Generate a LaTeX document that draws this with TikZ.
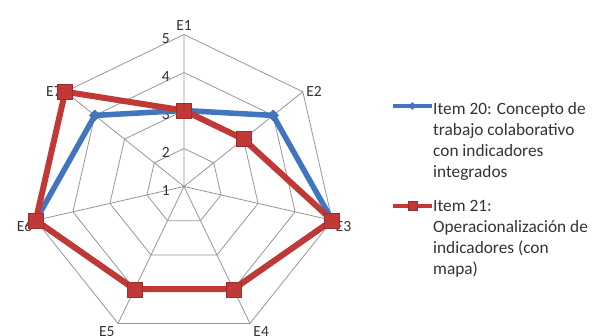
\documentclass[tikz,border=0pt]{standalone}
\usepackage{fontspec}
\setmainfont{Carlito}
\usepackage{tikz}
\usetikzlibrary{calc, shapes.geometric}
\definecolor{itemBlue}{RGB}{66,117,190}
\definecolor{itemRed}{RGB}{193,57,55}
\definecolor{webGray}{RGB}{150,150,150}
\tikzset{
  webline/.style={draw=webGray, line width=0.8pt},
  blueline/.style={draw=itemBlue, line width=5.5pt, line join=round},
  redline/.style={draw=itemRed, line width=6pt, line join=round},
  bluemark/.style={diamond, fill=itemBlue, inner sep=0pt, minimum size=12pt},
  redmark/.style={rectangle, fill=itemRed, draw=itemRed!80!black, line width=0.4pt, inner sep=0pt, minimum size=15pt},
  axislbl/.style={font=\fontsize{15.5}{18}\selectfont, text=black!80},
  levellbl/.style={font=\fontsize{15.5}{18}\selectfont, text=black!80, anchor=east, inner sep=0pt},
  legendtxt/.style={font=\fontsize{17.3}{21}\selectfont, text=black!80, anchor=north west, align=left, inner sep=0pt}
}
\providecommand{\Ring}[1]{%
  % one heptagon of the web, #1 = part of the outer radius
  \draw[webline] ($(C)!#1!(V1)$) -- ($(C)!#1!(V2)$) -- ($(C)!#1!(V3)$) -- ($(C)!#1!(V4)$)
    -- ($(C)!#1!(V5)$) -- ($(C)!#1!(V6)$) -- ($(C)!#1!(V7)$) -- cycle;
}
\providecommand{\Val}[3]{%
  % point #1 on axis #2 at value #3 (1 = centre, 5 = outer ring)
  \pgfmathsetmacro{\vpos}{(#3-1)/4}%
  \coordinate (#1) at ($(C)!\vpos!(V#2)$);
}
\begin{document}
\begin{tikzpicture}[x=1pt, y=1pt]

	\useasboundingbox (-184,-149.5) rectangle (410,186.5);

	\coordinate (C) at (0,0);
	\coordinate (V1) at (90:152);
	\coordinate (V2) at (38.571:152);
	\coordinate (V3) at (-12.857:152);
	\coordinate (V4) at (-64.286:152);
	\coordinate (V5) at (-115.714:152);
	\coordinate (V6) at (-167.143:152);
	\coordinate (V7) at (141.429:152);

	% web
	\Ring{1}
	\Ring{0.75}
	\Ring{0.5}
	\Ring{0.25}
	\draw[webline] (C) -- (V1) (C) -- (V2) (C) -- (V3) (C) -- (V4) (C) -- (V5) (C) -- (V6) (C) -- (V7);

	\node[axislbl, anchor=south] (E1) at (V1) {E1};
	\node[axislbl, anchor=west] (E2) at (V2) {E2};
	\node[axislbl, anchor=west, yshift=-6pt] (E3) at (V3) {E3};
	\node[axislbl, anchor=north west] (E4) at (V4) {E4};
	\node[axislbl, anchor=north east] (E5) at (V5) {E5};
	\node[axislbl, anchor=east, yshift=-6pt] (E6) at (V6) {E6};
	\node[axislbl, anchor=east] (E7) at (V7) {E7};

	\node[levellbl] (L5) at (-14,148) {5};
	\node[levellbl] (L4) at (-14,110) {4};
	\node[levellbl] (L3) at (-14,72) {3};
	\node[levellbl] (L2) at (-14,34) {2};
	\node[levellbl] (L1) at (-14,-4) {1};

	% Item 20
	\Val{b1}{1}{3} \Val{b2}{2}{4} \Val{b3}{3}{5} \Val{b4}{4}{4}
	\Val{b5}{5}{4} \Val{b6}{6}{5} \Val{b7}{7}{4}
	\draw[blueline] (b1) -- (b2) -- (b3) -- (b4) -- (b5) -- (b6) -- (b7) -- cycle;
	\node[bluemark] (bm1) at (b1) {};
	\node[bluemark] (bm2) at (b2) {};
	\node[bluemark] (bm3) at (b3) {};
	\node[bluemark] (bm4) at (b4) {};
	\node[bluemark] (bm5) at (b5) {};
	\node[bluemark] (bm6) at (b6) {};
	\node[bluemark] (bm7) at (b7) {};

	% Item 21
	\Val{r1}{1}{3} \Val{r2}{2}{3} \Val{r3}{3}{5} \Val{r4}{4}{4}
	\Val{r5}{5}{4} \Val{r6}{6}{5} \Val{r7}{7}{5}
	\draw[redline] (r1) -- (r2) -- (r3) -- (r4) -- (r5) -- (r6) -- (r7) -- cycle;
	\node[redmark] (rm1) at (r1) {};
	\node[redmark] (rm2) at (r2) {};
	\node[redmark] (rm3) at (r3) {};
	\node[redmark] (rm4) at (r4) {};
	\node[redmark] (rm5) at (r5) {};
	\node[redmark] (rm6) at (r6) {};
	\node[redmark] (rm7) at (r7) {};

	% legend
	\coordinate (LB1) at (209,80.5);
	\coordinate (LB2) at (248,80.5);
	\coordinate (LR1) at (209,-19.5);
	\coordinate (LR2) at (248,-19.5);
	\draw[blueline, line width=4pt] (LB1) -- (LB2);
	\node[bluemark, minimum size=8pt] (LBm) at ($(LB1)!0.5!(LB2)$) {};
	\draw[redline, line width=4pt] (LR1) -- (LR2);
	\node[redmark, minimum size=9pt] (LRm) at ($(LR1)!0.5!(LR2)$) {};

	\node[legendtxt] (T20) at (249,84) {Item 20: Concepto de\\trabajo colaborativo\\con indicadores\\integrados};
	\node[legendtxt] (T21) at (249,-13.5) {Item 21:\\Operacionalización de\\indicadores (con\\mapa)};

\end{tikzpicture}
\end{document}
